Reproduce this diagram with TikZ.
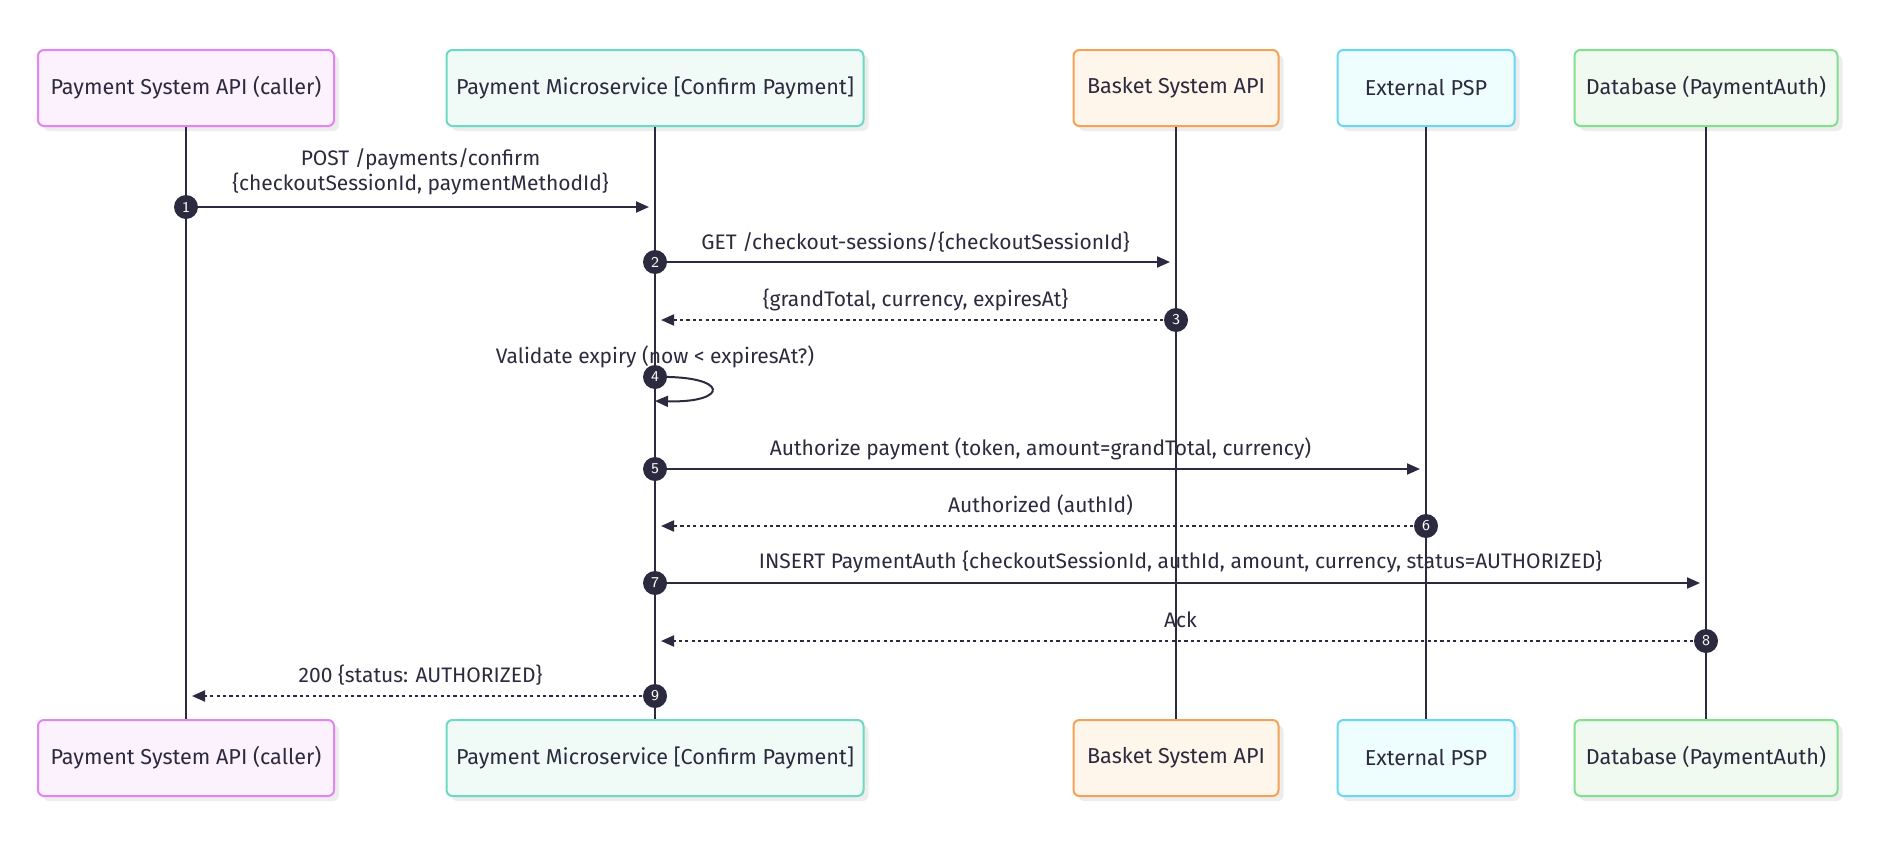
\documentclass[tikz,border=0pt]{standalone}
\usepackage{fontspec}
\setmainfont{Fira Sans}
\usetikzlibrary{calc,arrows.meta,shadows}

\definecolor{ink}{HTML}{2B2A3E}
\definecolor{pinkln}{HTML}{E384F2}
\definecolor{pinkbg}{HTML}{FBF2FD}
\definecolor{tealln}{HTML}{6DD9C2}
\definecolor{tealbg}{HTML}{F0FBF8}
\definecolor{orangeln}{HTML}{F4A258}
\definecolor{orangebg}{HTML}{FFF6EB}
\definecolor{cyanln}{HTML}{6AD7F2}
\definecolor{cyanbg}{HTML}{EEFDFE}
\definecolor{greenln}{HTML}{80E08C}
\definecolor{greenbg}{HTML}{F1FAF1}

\begin{document}
\begin{tikzpicture}[x=0.5pt,y=-0.5pt,
    actor/.style={draw, rounded corners=3pt, line width=1pt, minimum height=38pt,
      align=center, text=ink, font=\fontsize{10.8}{12}\selectfont,
      drop shadow={shadow xshift=2.5pt, shadow yshift=-2.5pt, fill=black!7, opacity=1}},
    life/.style={draw=ink, line width=1pt},
    call/.style={draw=ink, line width=1pt, -{Triangle[length=6.5pt,width=5.5pt]}, shorten >=3pt},
    reply/.style={call, dash pattern=on 1.6pt off 1.6pt},
    msgtext/.style={text=ink, align=center, font=\fontsize{10.5}{12.5}\selectfont},
    stepdot/.style={circle, fill=ink, text=white, inner sep=0pt, minimum size=12pt,
      font=\sffamily\fontsize{7.5}{8}\selectfont}]
  \useasboundingbox (0,0) rectangle (1878,862);

  \pgfmathsetmacro{\topY}{88}
  \pgfmathsetmacro{\botY}{758}
  \foreach \name/\x/\w/\ln/\bg/\txt in {
      api/186/148/pinkln/pinkbg/Payment System API (caller),
      svc/655/208.5/tealln/tealbg/Payment Microservice [Confirm Payment],
      bsk/1176/102.5/orangeln/orangebg/Basket System API,
      psp/1426/88.5/cyanln/cyanbg/External PSP,
      db/1706/131.5/greenln/greenbg/Database (PaymentAuth)} {
    \node[actor, draw=\ln, fill=\bg, minimum width=\w pt] (\name T) at (\x,\topY) {\txt};
    \node[actor, draw=\ln, fill=\bg, minimum width=\w pt] (\name B) at (\x,\botY) {\txt};
    \draw[life] (\name T) -- (\name B);
  }

  % messages
  \coordinate (m1s) at (apiT |- 0,207);
  \coordinate (m1e) at (svcT |- 0,207);
  \draw[call] (m1s) -- (m1e);
  \node[msgtext] (l1) at ($(m1s)!.5!(m1e)+(0,-35)$) {POST /payments/confirm\\\{checkoutSessionId, paymentMethodId\}};
  \node[stepdot] (s1) at (m1s) {1};

  \coordinate (m2s) at (svcT |- 0,262);
  \coordinate (m2e) at (bskT |- 0,262);
  \draw[call] (m2s) -- (m2e);
  \node[msgtext] (l2) at ($(m2s)!.5!(m2e)+(0,-20)$) {GET /checkout-sessions/\{checkoutSessionId\}};
  \node[stepdot] (s2) at (m2s) {2};

  \coordinate (m3s) at (bskT |- 0,320);
  \coordinate (m3e) at (svcT |- 0,320);
  \draw[reply] (m3s) -- (m3e);
  \node[msgtext] (l3) at ($(m3s)!.5!(m3e)+(0,-20)$) {\{grandTotal, currency, expiresAt\}};
  \node[stepdot] (s3) at (m3s) {3};

  \coordinate (m4s) at (svcT |- 0,377);
  \coordinate (m4e) at (svcT |- 0,401);
  \draw[call, shorten >=0pt] (m4s) .. controls ($(m4s)+(75,-2)$) and ($(m4e)+(75,2)$) .. (m4e);
  \node[msgtext] (l4) at ($(m4s)+(0,-20)$) {Validate expiry (now < expiresAt?)};
  \node[stepdot] (s4) at (m4s) {4};

  \coordinate (m5s) at (svcT |- 0,469);
  \coordinate (m5e) at (pspT |- 0,469);
  \draw[call] (m5s) -- (m5e);
  \node[msgtext] (l5) at ($(m5s)!.5!(m5e)+(0,-20)$) {Authorize payment (token, amount=grandTotal, currency)};
  \node[stepdot] (s5) at (m5s) {5};

  \coordinate (m6s) at (pspT |- 0,526);
  \coordinate (m6e) at (svcT |- 0,526);
  \draw[reply] (m6s) -- (m6e);
  \node[msgtext] (l6) at ($(m6s)!.5!(m6e)+(0,-21)$) {Authorized (authId)};
  \node[stepdot] (s6) at (m6s) {6};

  \coordinate (m7s) at (svcT |- 0,583);
  \coordinate (m7e) at (dbT |- 0,583);
  \draw[call] (m7s) -- (m7e);
  \node[msgtext] (l7) at ($(m7s)!.5!(m7e)+(0,-21)$) {INSERT PaymentAuth \{checkoutSessionId, authId, amount, currency, status=AUTHORIZED\}};
  \node[stepdot] (s7) at (m7s) {7};

  \coordinate (m8s) at (dbT |- 0,641);
  \coordinate (m8e) at (svcT |- 0,641);
  \draw[reply] (m8s) -- (m8e);
  \node[msgtext] (l8) at ($(m8s)!.5!(m8e)+(0,-21)$) {Ack};
  \node[stepdot] (s8) at (m8s) {8};

  \coordinate (m9s) at (svcT |- 0,696);
  \coordinate (m9e) at (apiT |- 0,696);
  \draw[reply] (m9s) -- (m9e);
  \node[msgtext] (l9) at ($(m9s)!.5!(m9e)+(0,-21)$) {200 \{status: AUTHORIZED\}};
  \node[stepdot] (s9) at (m9s) {9};
\end{tikzpicture}
\end{document}
